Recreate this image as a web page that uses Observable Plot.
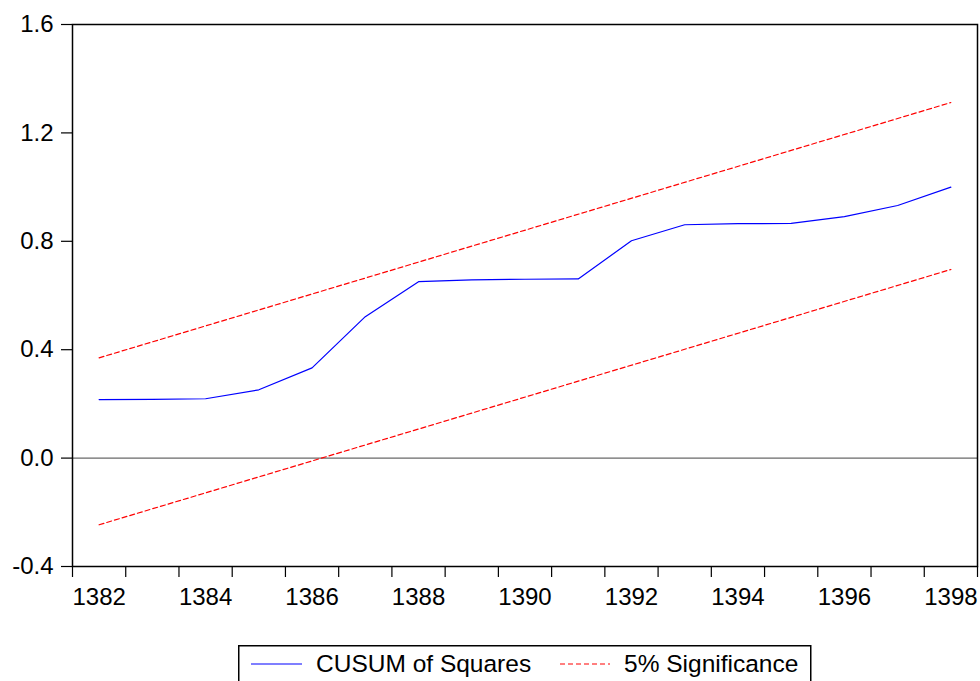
<!DOCTYPE html>
<html>
<head>
<meta charset="utf-8">
<script src="https://cdn.jsdelivr.net/npm/d3@7"></script>
<script src="https://cdn.jsdelivr.net/npm/@observablehq/plot@0.6"></script>
<style>
  html, body { margin: 0; padding: 0; background: #fff; }
  #wrap { position: relative; width: 980px; height: 681px; overflow: hidden; font-family: "Liberation Sans", Arial, sans-serif; }
  #legend { position: absolute; left: 238px; top: 645px; }
</style>
</head>
<body>
<div id="wrap"><div id="chart"></div><div id="legend"></div></div>
<script>
// Years of observation
const years = [1382, 1383, 1384, 1385, 1386, 1387, 1388, 1389, 1390, 1391, 1392, 1393, 1394, 1395, 1396, 1397, 1398];
// CUSUM of squares values
const cusumSq = [0.216, 0.217, 0.219, 0.252, 0.333, 0.522, 0.651, 0.658, 0.660, 0.661, 0.802, 0.861, 0.865, 0.866, 0.891, 0.932, 1.000];
// 5% significance bounds (straight lines, endpoints)
const boundYears = [1382, 1398];
const upperBound = [0.370, 1.312];
const lowerBound = [-0.246, 0.696];
// Axis tick labels
const xTickLabels = [1382, 1384, 1386, 1388, 1390, 1392, 1394, 1396, 1398];
const yTickLabels = [-0.4, 0.0, 0.4, 0.8, 1.2, 1.6];
// Legend entries
const legendLabels = ["CUSUM of Squares", "5% Significance"];

const cusumData = years.map((y, i) => ({year: y, value: cusumSq[i]}));
const upperData = boundYears.map((y, i) => ({year: y, value: upperBound[i]}));
const lowerData = boundYears.map((y, i) => ({year: y, value: lowerBound[i]}));
const xBoundaryTicks = [years[0] - 0.5, ...years.map(y => y + 0.5)];

const fontFamily = '"Liberation Sans", Arial, sans-serif';

const chart = Plot.plot({
  width: 980,
  height: 640,
  marginLeft: 72,
  marginRight: 3,
  marginTop: 24,
  marginBottom: 74,
  style: {fontFamily, fontSize: "24px", color: "#000", background: "#fff"},
  x: {domain: [years[0] - 0.5, years[years.length - 1] + 0.5]},
  y: {domain: [yTickLabels[0], yTickLabels[yTickLabels.length - 1]]},
  marks: [
    Plot.ruleY([0], {stroke: "#444", strokeWidth: 1}),
    Plot.line(upperData, {x: "year", y: "value", stroke: "#ff0000", strokeWidth: 1.2, strokeDasharray: "5,3"}),
    Plot.line(lowerData, {x: "year", y: "value", stroke: "#ff0000", strokeWidth: 1.2, strokeDasharray: "5,3"}),
    Plot.line(cusumData, {x: "year", y: "value", stroke: "#0000ff", strokeWidth: 1.2}),
    Plot.axisY({ticks: yTickLabels, tickFormat: d => d.toFixed(1), tickSize: 11, tickPadding: 8, label: null, stroke: "#000", strokeWidth: 1.2}),
    Plot.axisX({ticks: xBoundaryTicks, tickFormat: () => "", tickSize: 11, label: null, stroke: "#000", strokeWidth: 1.2}),
    Plot.axisX({ticks: xTickLabels, tickFormat: d => String(d), tickSize: 0, tickPadding: 21, label: null}),
    Plot.frame({stroke: "#000", strokeWidth: 1.5})
  ]
});
document.getElementById("chart").appendChild(chart);

// Legend
const lg = d3.select("#legend").append("svg")
  .attr("width", 574).attr("height", 40)
  .style("font-family", fontFamily).style("font-size", "24.5px");
lg.append("rect").attr("x", 0.75).attr("y", 0.75).attr("width", 572).attr("height", 60)
  .attr("fill", "#fff").attr("stroke", "#000").attr("stroke-width", 1.5);
lg.append("line").attr("x1", 13).attr("x2", 64).attr("y1", 19).attr("y2", 19)
  .attr("stroke", "#0000ff").attr("stroke-width", 1.2);
lg.append("text").attr("x", 78).attr("y", 27).text(legendLabels[0]);
lg.append("line").attr("x1", 322).attr("x2", 372).attr("y1", 19).attr("y2", 19)
  .attr("stroke", "#ff0000").attr("stroke-width", 1.2).attr("stroke-dasharray", "5,3");
lg.append("text").attr("x", 386).attr("y", 27).text(legendLabels[1]);
</script>
</body>
</html>
